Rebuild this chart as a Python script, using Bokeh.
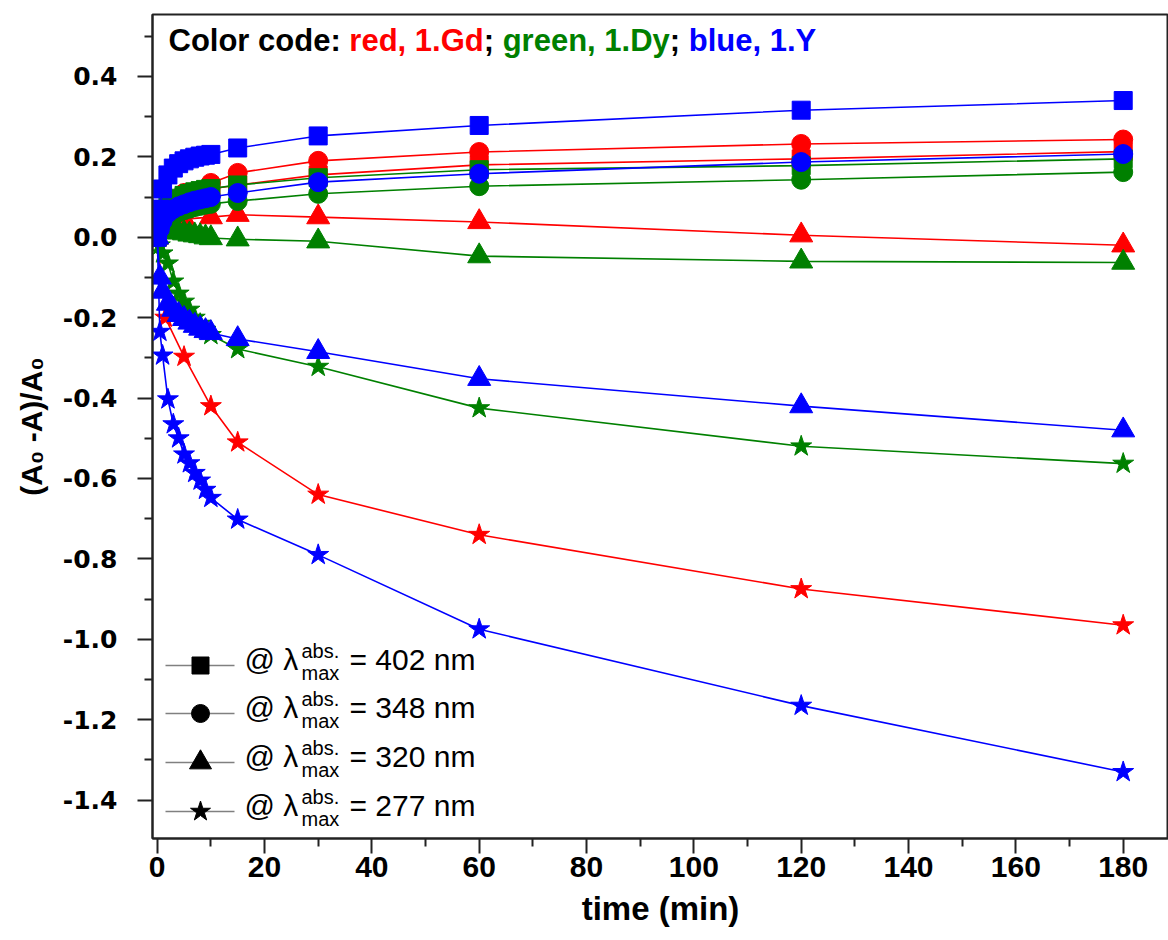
import math
from bokeh.plotting import figure
from bokeh.models import Range1d, FixedTicker, Label
from bokeh.embed import file_html
from bokeh.resources import INLINE

# ---------------- data ----------------
t_dense = [0, 0.5, 1, 2, 3, 4, 5, 6, 7, 8, 9, 10, 15, 30, 60, 120, 180]
t_gd = [0, 1.5, 5, 10, 15, 30, 60, 120, 180]

# 1.Gd (red)
gd_402 = [0, 0.06, 0.10, 0.12, 0.13, 0.155, 0.18, 0.195, 0.213]
gd_348 = [0, 0.07, 0.11, 0.135, 0.16, 0.19, 0.212, 0.232, 0.243]
gd_320 = [0, 0.02, 0.045, 0.05, 0.056, 0.05, 0.038, 0.005, -0.02]
gd_277 = [0, -0.2, -0.297, -0.42, -0.51, -0.64, -0.74, -0.875, -0.965]

# 1.Dy (green)
dy_402 = [0, 0.03, 0.05, 0.075, 0.088, 0.097, 0.104, 0.109, 0.113, 0.116, 0.119, 0.121, 0.13, 0.148, 0.168, 0.178, 0.195]
dy_348 = [0, 0.015, 0.03, 0.045, 0.055, 0.062, 0.067, 0.071, 0.075, 0.078, 0.081, 0.083, 0.09, 0.108, 0.127, 0.143, 0.162]
dy_320 = [0, 0.02, 0.025, 0.02, 0.015, 0.012, 0.01, 0.007, 0.005, 0.003, 0.0, -0.002, -0.005, -0.01, -0.047, -0.06, -0.063]
dy_277 = [0, -0.02, -0.04, -0.065, -0.11, -0.14, -0.16, -0.18, -0.2, -0.215, -0.23, -0.243, -0.278, -0.322, -0.425, -0.52, -0.563]

# 1.Y (blue)
y_402 = [0, 0.07, 0.12, 0.155, 0.172, 0.183, 0.19, 0.195, 0.199, 0.202, 0.204, 0.206, 0.222, 0.252, 0.278, 0.316, 0.34]
y_348 = [0, 0.02, 0.04, 0.06, 0.07, 0.077, 0.082, 0.087, 0.091, 0.094, 0.097, 0.1, 0.11, 0.137, 0.158, 0.187, 0.207]
y_320 = [0, -0.1, -0.135, -0.165, -0.18, -0.193, -0.203, -0.212, -0.22, -0.227, -0.233, -0.238, -0.253, -0.285, -0.352, -0.42, -0.48]
y_277 = [0, -0.235, -0.294, -0.403, -0.465, -0.5, -0.54, -0.562, -0.586, -0.605, -0.628, -0.648, -0.702, -0.79, -0.975, -1.165, -1.33]

x_ticks = [0, 20, 40, 60, 80, 100, 120, 140, 160, 180]
x_tick_labels = ["0", "20", "40", "60", "80", "100", "120", "140", "160", "180"]
x_minor = [10, 30, 50, 70, 90, 110, 130, 150, 170]
y_ticks = [0.4, 0.2, 0.0, -0.2, -0.4, -0.6, -0.8, -1.0, -1.2, -1.4]
y_tick_labels = ["0.4", "0.2", "0.0", "-0.2", "-0.4", "-0.6", "-0.8", "-1.0", "-1.2", "-1.4"]
y_minor = [0.5, 0.3, 0.1, -0.1, -0.3, -0.5, -0.7, -0.9, -1.1, -1.3, -1.5]

wavelengths = ["402", "348", "320", "277"]
title_parts = ["Color code: ", "red, 1.Gd", "; ", "green, 1.Dy", "; ", "blue, 1.Y"]
x_title = "time (min)"
y_title = "(A\u2080 -A)/A\u2080"

# ---------------- styles / layout ----------------
RED, GREEN, BLUE = "#FF0000", "#008000", "#0000FF"
MARKERS = ["square", "circle", "triangle", "star"]
MSIZE = {"square": 18, "circle": 19, "triangle": 23, "star": 22}

W, H = 1168, 940
FL, FR, FT, FB = 152, 1168, 14, 838
X0, X1 = -0.876, 188.44
Y0, Y1 = -1.4955, 0.554

ARIAL_BOLD = {' ': 278, ',': 278, '.': 278, ':': 333, ';': 333, '1': 556, 'C': 722, 'D': 722,
              'G': 778, 'Y': 667, 'a': 556, 'b': 611, 'c': 556, 'd': 611, 'e': 556, 'g': 611,
              'l': 278, 'n': 611, 'o': 611, 'r': 389, 'u': 611, 'y': 556}


def tw(s, size):
    return sum(ARIAL_BOLD[c] for c in s) * size / 1000.0


def sx(px):
    return px - FL


def sy(py):
    return FB - py


def xd(px):
    return X0 + (px - FL) / (FR - FL) * (X1 - X0)


def yd(py):
    return Y1 - (py - FT) / (FB - FT) * (Y1 - Y0)


p = figure(width=W, height=H, x_range=Range1d(X0, X1), y_range=Range1d(Y0, Y1),
           output_backend="svg", toolbar_location=None,
           min_border_left=FL, min_border_right=W - FR, min_border_top=FT,
           min_border_bottom=H - FB)
p.grid.visible = False
p.outline_line_color = "#222222"
p.outline_line_width = 2
p.background_fill_color = "white"
p.border_fill_color = "white"

p.xaxis.ticker = FixedTicker(ticks=x_ticks, minor_ticks=x_minor)
p.xaxis.major_label_overrides = {t: l for t, l in zip(x_ticks, x_tick_labels)}
p.yaxis.ticker = FixedTicker(ticks=y_ticks, minor_ticks=y_minor)
p.yaxis.major_label_overrides = {t: l for t, l in zip(y_ticks, y_tick_labels)}

for ax in (p.xaxis[0], p.yaxis[0]):
    ax.axis_line_width = 2
    ax.axis_line_color = "#222222"
    ax.major_tick_line_width = 2
    ax.minor_tick_line_width = 2
    ax.major_tick_line_color = "#222222"
    ax.minor_tick_line_color = "#222222"
    ax.major_tick_in = 0
    ax.major_tick_out = 15
    ax.minor_tick_in = 0
    ax.minor_tick_out = 8
    ax.major_label_text_color = "black"
    ax.major_label_text_font_style = "bold"
    ax.axis_label_text_color = "black"
    ax.axis_label_text_font_style = "bold"
    ax.axis_label_text_font = "Liberation Sans"

p.xaxis.major_label_text_font = "Liberation Sans"
p.xaxis.major_label_text_font_size = "30px"
p.xaxis.major_label_standoff = 3
p.xaxis.axis_label = x_title
p.xaxis.axis_label_text_font_size = "33px"
p.xaxis.axis_label_standoff = 10

p.yaxis.major_label_text_font = "DejaVu Sans"
p.yaxis.major_label_text_font_size = "25px"
p.yaxis.major_label_standoff = 20
p.yaxis.axis_label = y_title
p.yaxis.axis_label_text_font_size = "30px"
p.yaxis.axis_label_standoff = 12

# ---------------- series ----------------
groups = [
    (t_gd, [gd_402, gd_348, gd_320, gd_277], RED),
    (t_dense, [dy_402, dy_348, dy_320, dy_277], GREEN),
    (t_dense, [y_402, y_348, y_320, y_277], BLUE),
]
for t, vals, col in groups:
    for v, m in zip(vals, MARKERS):
        p.line(t, v, line_color=col, line_width=1.6)
        p.scatter(t, v, marker=m, size=MSIZE[m], fill_color=col, line_color=col)

# ---------------- legend (custom, with sub/superscripts) ----------------
row_py = [665, 713, 762, 811]
for r, (py, m, wl) in enumerate(zip(row_py, MARKERS, wavelengths)):
    p.segment(x0=[xd(165)], y0=[yd(py)], x1=[xd(234)], y1=[yd(py)], line_color="#808080", line_width=1.5)
    p.scatter([xd(200)], [yd(py)], marker=m, size=MSIZE[m] - 1, fill_color="black", line_color="black")
    p.add_layout(Label(x=sx(244), y=sy(py + 10), x_units="screen", y_units="screen", text="@ λ",
                       text_font="Liberation Sans", text_font_size="30px", text_color="black"))
    p.add_layout(Label(x=sx(301), y=sy(py - 4), x_units="screen", y_units="screen", text="abs.",
                       text_font="Liberation Sans", text_font_size="20px", text_color="black"))
    p.add_layout(Label(x=sx(301), y=sy(py + 18), x_units="screen", y_units="screen", text="max",
                       text_font="Liberation Sans", text_font_size="20px", text_color="black"))
    p.add_layout(Label(x=sx(349), y=sy(py + 10), x_units="screen", y_units="screen", text="= %s nm" % wl,
                       text_font="Liberation Sans", text_font_size="30px", text_color="black"))

# ---------------- colour-code title ----------------
title_colors = ["black", RED, "black", GREEN, "black", BLUE]
cx = 168
for part, col in zip(title_parts, title_colors):
    p.add_layout(Label(x=sx(cx), y=sy(57), x_units="screen", y_units="screen", text=part,
                       text_font="Liberation Sans", text_font_style="bold", text_font_size="31px",
                       text_color=col))
    cx += tw(part, 31)

open("out.html", "w").write(file_html(p, INLINE))
